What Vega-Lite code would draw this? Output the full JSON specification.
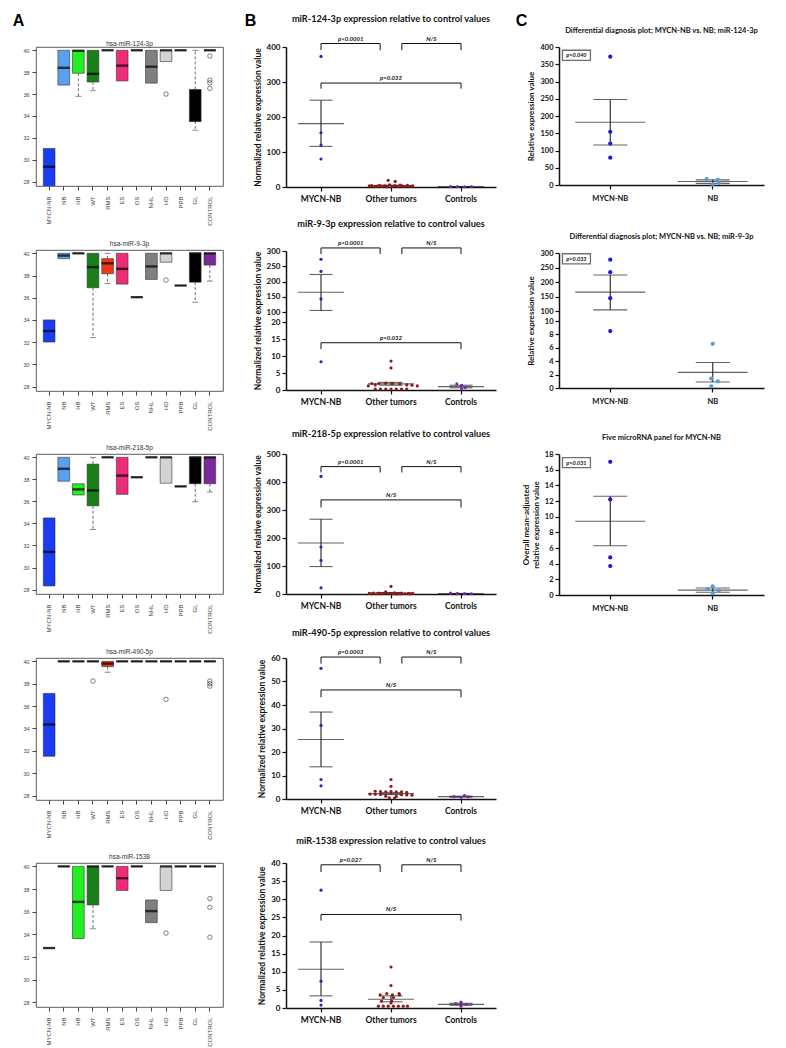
{
"$schema":"https://vega.github.io/schema/vega-lite/v6.json",
"background":"white",
"padding":{"left":11,"top":11,"right":24,"bottom":5},
"config":{"view":{"stroke":null}},
"datasets":{
"box":[
{"p":"124","g":"MYCN-NB","q1":27.55,"med":29.36,"q3":31.03},
{"p":"124","g":"NB","q1":36.82,"med":38.4,"q3":40},
{"p":"124","g":"HB","q1":37.9,"med":39.95,"q3":40},
{"p":"124","g":"WT","q1":37.1,"med":37.85,"q3":40},
{"p":"124","g":"RMS","q1":40,"med":40,"q3":40},
{"p":"124","g":"ES","q1":37.2,"med":38.6,"q3":40},
{"p":"124","g":"OS","q1":40,"med":40,"q3":40},
{"p":"124","g":"NHL","q1":37.0,"med":38.5,"q3":40},
{"p":"124","g":"HD","q1":38.97,"med":40,"q3":40},
{"p":"124","g":"PPB","q1":40,"med":40,"q3":40},
{"p":"124","g":"GL","q1":33.55,"med":33.55,"q3":36.42},
{"p":"124","g":"CONTROL","q1":40,"med":40,"q3":40},
{"p":"9","g":"MYCN-NB","q1":32.01,"med":33.0,"q3":34.0},
{"p":"9","g":"NB","q1":39.52,"med":39.8,"q3":40},
{"p":"9","g":"HB","q1":40,"med":40,"q3":40},
{"p":"9","g":"WT","q1":36.9,"med":38.76,"q3":40},
{"p":"9","g":"RMS","q1":38.16,"med":39.1,"q3":39.52},
{"p":"9","g":"ES","q1":37.23,"med":38.6,"q3":40},
{"p":"9","g":"OS","q1":36.05,"med":36.05,"q3":36.05},
{"p":"9","g":"NHL","q1":37.65,"med":38.82,"q3":40},
{"p":"9","g":"HD","q1":39.2,"med":40,"q3":40},
{"p":"9","g":"PPB","q1":37.1,"med":37.1,"q3":37.1},
{"p":"9","g":"GL","q1":37.4,"med":40,"q3":40},
{"p":"9","g":"CONTROL","q1":38.94,"med":40,"q3":40},
{"p":"218","g":"MYCN-NB","q1":28.33,"med":31.42,"q3":34.5},
{"p":"218","g":"NB","q1":37.83,"med":38.96,"q3":40},
{"p":"218","g":"HB","q1":36.58,"med":37.09,"q3":37.6},
{"p":"218","g":"WT","q1":35.6,"med":37.0,"q3":39.38},
{"p":"218","g":"RMS","q1":40,"med":40,"q3":40},
{"p":"218","g":"ES","q1":36.64,"med":38.34,"q3":40},
{"p":"218","g":"OS","q1":38.19,"med":38.19,"q3":38.19},
{"p":"218","g":"NHL","q1":40,"med":40,"q3":40},
{"p":"218","g":"HD","q1":37.65,"med":40,"q3":40},
{"p":"218","g":"PPB","q1":37.36,"med":37.36,"q3":37.36},
{"p":"218","g":"GL","q1":37.6,"med":40,"q3":40},
{"p":"218","g":"CONTROL","q1":37.6,"med":40,"q3":40},
{"p":"490","g":"MYCN-NB","q1":31.51,"med":34.35,"q3":37.13},
{"p":"490","g":"NB","q1":40,"med":40,"q3":40},
{"p":"490","g":"HB","q1":40,"med":40,"q3":40},
{"p":"490","g":"WT","q1":40,"med":40,"q3":40},
{"p":"490","g":"RMS","q1":39.53,"med":39.8,"q3":40},
{"p":"490","g":"ES","q1":40,"med":40,"q3":40},
{"p":"490","g":"OS","q1":40,"med":40,"q3":40},
{"p":"490","g":"NHL","q1":40,"med":40,"q3":40},
{"p":"490","g":"HD","q1":40,"med":40,"q3":40},
{"p":"490","g":"PPB","q1":40,"med":40,"q3":40},
{"p":"490","g":"GL","q1":40,"med":40,"q3":40},
{"p":"490","g":"CONTROL","q1":40,"med":40,"q3":40},
{"p":"1538","g":"MYCN-NB","q1":32.8,"med":32.8,"q3":32.8},
{"p":"1538","g":"NB","q1":40,"med":40,"q3":40},
{"p":"1538","g":"HB","q1":33.64,"med":36.87,"q3":40},
{"p":"1538","g":"WT","q1":36.6,"med":40,"q3":40},
{"p":"1538","g":"RMS","q1":40,"med":40,"q3":40},
{"p":"1538","g":"ES","q1":37.88,"med":38.96,"q3":40},
{"p":"1538","g":"OS","q1":40,"med":40,"q3":40},
{"p":"1538","g":"NHL","q1":35.04,"med":36.06,"q3":37.04},
{"p":"1538","g":"HD","q1":37.88,"med":40,"q3":40},
{"p":"1538","g":"PPB","q1":40,"med":40,"q3":40},
{"p":"1538","g":"GL","q1":40,"med":40,"q3":40},
{"p":"1538","g":"CONTROL","q1":40,"med":40,"q3":40}
],
"wh":[
{"p":"124","g":"HB","a":37.9,"b":35.8},
{"p":"124","g":"WT","a":37.1,"b":36.3},
{"p":"124","g":"GL","a":36.42,"b":40},
{"p":"124","g":"GL","a":33.55,"b":32.7},
{"p":"9","g":"WT","a":36.9,"b":32.43},
{"p":"9","g":"RMS","a":39.52,"b":40},
{"p":"9","g":"RMS","a":38.16,"b":37.29},
{"p":"9","g":"GL","a":37.4,"b":35.6},
{"p":"9","g":"CONTROL","a":38.94,"b":37.5},
{"p":"218","g":"WT","a":39.38,"b":40},
{"p":"218","g":"WT","a":35.6,"b":33.44},
{"p":"218","g":"GL","a":37.6,"b":35.96},
{"p":"218","g":"CONTROL","a":37.6,"b":36.85},
{"p":"490","g":"RMS","a":39.53,"b":39.03},
{"p":"1538","g":"WT","a":36.6,"b":34.5}
],
"out":[
{"p":"124","g":"HD","v":36.0},
{"p":"124","g":"CONTROL","v":39.48},
{"p":"124","g":"CONTROL","v":37.27},
{"p":"124","g":"CONTROL","v":37.03},
{"p":"124","g":"CONTROL","v":36.52},
{"p":"9","g":"HD","v":37.59},
{"p":"490","g":"WT","v":38.24},
{"p":"490","g":"HD","v":36.6},
{"p":"490","g":"CONTROL","v":38.24},
{"p":"490","g":"CONTROL","v":38.0},
{"p":"490","g":"CONTROL","v":37.78},
{"p":"1538","g":"HD","v":34.12},
{"p":"1538","g":"CONTROL","v":37.16},
{"p":"1538","g":"CONTROL","v":36.39},
{"p":"1538","g":"CONTROL","v":33.76}
],
"pts":[
{"p":"b124","g":"MYCN-NB","v":373,"s":0},{"p":"b124","g":"MYCN-NB","v":155,"s":0},{"p":"b124","g":"MYCN-NB","v":120,"s":0},{"p":"b124","g":"MYCN-NB","v":80,"s":0},
{"p":"b124","g":"Other tumors","v":19,"s":-0.08},{"p":"b124","g":"Other tumors","v":16,"s":0.12},
{"p":"b124","g":"Other tumors","v":6,"s":-0.04},{"p":"b124","g":"Other tumors","v":5.5,"s":0.26},{"p":"b124","g":"Other tumors","v":5,"s":-0.33},{"p":"b124","g":"Other tumors","v":4.5,"s":0.47},{"p":"b124","g":"Other tumors","v":4,"s":-0.55},{"p":"b124","g":"Other tumors","v":4,"s":0.11},{"p":"b124","g":"Other tumors","v":3.5,"s":-0.18},{"p":"b124","g":"Other tumors","v":3,"s":0.62},{"p":"b124","g":"Other tumors","v":3,"s":-0.62},{"p":"b124","g":"Other tumors","v":2.5,"s":0.33},{"p":"b124","g":"Other tumors","v":2.5,"s":-0.4},{"p":"b124","g":"Other tumors","v":2,"s":0.55},{"p":"b124","g":"Other tumors","v":2,"s":-0.26},{"p":"b124","g":"Other tumors","v":1.5,"s":0.04},{"p":"b124","g":"Other tumors","v":1.5,"s":0.4},{"p":"b124","g":"Other tumors","v":1,"s":-0.47},{"p":"b124","g":"Other tumors","v":1,"s":0.18},{"p":"b124","g":"Other tumors","v":0.5,"s":-0.11},
{"p":"b124","g":"Controls","v":1.5,"s":-0.3},{"p":"b124","g":"Controls","v":1.0,"s":-0.1},{"p":"b124","g":"Controls","v":0.8,"s":0.1},{"p":"b124","g":"Controls","v":1.2,"s":0.3},
{"p":"b9","g":"MYCN-NB","v":273,"s":0},{"p":"b9","g":"MYCN-NB","v":233,"s":0},{"p":"b9","g":"MYCN-NB","v":143,"s":0},{"p":"b9","g":"MYCN-NB","v":8.3,"s":0},
{"p":"b9","g":"Other tumors","v":8.5,"s":0},{"p":"b9","g":"Other tumors","v":6.5,"s":0},{"p":"b9","g":"Other tumors","v":1.9,"s":-0.55},{"p":"b9","g":"Other tumors","v":1.9,"s":-0.35},{"p":"b9","g":"Other tumors","v":2.0,"s":-0.15},{"p":"b9","g":"Other tumors","v":1.9,"s":0.05},{"p":"b9","g":"Other tumors","v":1.8,"s":0.25},{"p":"b9","g":"Other tumors","v":1.5,"s":-0.45},{"p":"b9","g":"Other tumors","v":1.5,"s":0.45},{"p":"b9","g":"Other tumors","v":1.4,"s":0.6},{"p":"b9","g":"Other tumors","v":1.2,"s":-0.65},{"p":"b9","g":"Other tumors","v":1.2,"s":0.75},{"p":"b9","g":"Other tumors","v":0.3,"s":-0.45},{"p":"b9","g":"Other tumors","v":0.3,"s":-0.3},{"p":"b9","g":"Other tumors","v":0.3,"s":-0.15},{"p":"b9","g":"Other tumors","v":0.3,"s":0},{"p":"b9","g":"Other tumors","v":0.3,"s":0.15},{"p":"b9","g":"Other tumors","v":0.3,"s":0.3},{"p":"b9","g":"Other tumors","v":0.3,"s":0.45},
{"p":"b9","g":"Controls","v":1.8,"s":-0.12},{"p":"b9","g":"Controls","v":1.4,"s":0.02},{"p":"b9","g":"Controls","v":0.7,"s":0.12},{"p":"b9","g":"Controls","v":0.3,"s":0.02},
{"p":"b218","g":"MYCN-NB","v":420,"s":0},{"p":"b218","g":"MYCN-NB","v":168,"s":0},{"p":"b218","g":"MYCN-NB","v":120,"s":0},{"p":"b218","g":"MYCN-NB","v":22,"s":0},
{"p":"b218","g":"Other tumors","v":27,"s":0},{"p":"b218","g":"Other tumors","v":8,"s":-0.15},{"p":"b218","g":"Other tumors","v":4,"s":0.1},{"p":"b218","g":"Other tumors","v":3.5,"s":-0.35},{"p":"b218","g":"Other tumors","v":3,"s":0.3},{"p":"b218","g":"Other tumors","v":3,"s":-0.5},{"p":"b218","g":"Other tumors","v":2.5,"s":0.5},{"p":"b218","g":"Other tumors","v":2.5,"s":-0.2},{"p":"b218","g":"Other tumors","v":2,"s":0.62},{"p":"b218","g":"Other tumors","v":2,"s":-0.62},{"p":"b218","g":"Other tumors","v":1.5,"s":0.2},{"p":"b218","g":"Other tumors","v":1.5,"s":-0.05},{"p":"b218","g":"Other tumors","v":1,"s":0.4},{"p":"b218","g":"Other tumors","v":1,"s":-0.4},{"p":"b218","g":"Other tumors","v":1,"s":0.05},{"p":"b218","g":"Other tumors","v":0.8,"s":-0.28},{"p":"b218","g":"Other tumors","v":0.5,"s":0.28},{"p":"b218","g":"Other tumors","v":0.5,"s":-0.55},{"p":"b218","g":"Other tumors","v":0.5,"s":0.55},{"p":"b218","g":"Other tumors","v":0.3,"s":0.15},
{"p":"b218","g":"Controls","v":3,"s":-0.3},{"p":"b218","g":"Controls","v":2,"s":-0.1},{"p":"b218","g":"Controls","v":1.5,"s":0.1},{"p":"b218","g":"Controls","v":1,"s":0.3},
{"p":"b490","g":"MYCN-NB","v":55.6,"s":0},{"p":"b490","g":"MYCN-NB","v":31.3,"s":0},{"p":"b490","g":"MYCN-NB","v":8.3,"s":0},{"p":"b490","g":"MYCN-NB","v":5.6,"s":0},
{"p":"b490","g":"Other tumors","v":8.3,"s":0},{"p":"b490","g":"Other tumors","v":5.4,"s":0},{"p":"b490","g":"Other tumors","v":3.3,"s":-0.45},{"p":"b490","g":"Other tumors","v":3.2,"s":-0.3},{"p":"b490","g":"Other tumors","v":3.1,"s":-0.15},{"p":"b490","g":"Other tumors","v":3.2,"s":0},{"p":"b490","g":"Other tumors","v":3.0,"s":0.15},{"p":"b490","g":"Other tumors","v":3.1,"s":0.3},{"p":"b490","g":"Other tumors","v":2.8,"s":0.45},{"p":"b490","g":"Other tumors","v":2.1,"s":-0.6},{"p":"b490","g":"Other tumors","v":2.0,"s":-0.45},{"p":"b490","g":"Other tumors","v":1.9,"s":-0.3},{"p":"b490","g":"Other tumors","v":1.8,"s":0.3},{"p":"b490","g":"Other tumors","v":1.7,"s":0.45},{"p":"b490","g":"Other tumors","v":1.6,"s":0.6},{"p":"b490","g":"Other tumors","v":1.2,"s":-0.15},{"p":"b490","g":"Other tumors","v":1.1,"s":0.15},{"p":"b490","g":"Other tumors","v":0.5,"s":-0.05},{"p":"b490","g":"Other tumors","v":0.4,"s":0.1},
{"p":"b490","g":"Controls","v":1.5,"s":0.1},{"p":"b490","g":"Controls","v":1.0,"s":-0.2},{"p":"b490","g":"Controls","v":0.9,"s":0.2},{"p":"b490","g":"Controls","v":0.7,"s":0},
{"p":"b1538","g":"MYCN-NB","v":32.5,"s":0},{"p":"b1538","g":"MYCN-NB","v":7.4,"s":0},{"p":"b1538","g":"MYCN-NB","v":2.1,"s":0},{"p":"b1538","g":"MYCN-NB","v":0.8,"s":0},
{"p":"b1538","g":"Other tumors","v":11.3,"s":0},{"p":"b1538","g":"Other tumors","v":6.2,"s":0},{"p":"b1538","g":"Other tumors","v":4.0,"s":-0.12},{"p":"b1538","g":"Other tumors","v":4.0,"s":0.23},{"p":"b1538","g":"Other tumors","v":3.6,"s":-0.31},{"p":"b1538","g":"Other tumors","v":3.6,"s":0.04},{"p":"b1538","g":"Other tumors","v":3.6,"s":0.24},{"p":"b1538","g":"Other tumors","v":2.9,"s":-0.22},{"p":"b1538","g":"Other tumors","v":2.9,"s":0.07},{"p":"b1538","g":"Other tumors","v":1.9,"s":-0.27},{"p":"b1538","g":"Other tumors","v":1.9,"s":0.02},{"p":"b1538","g":"Other tumors","v":1.4,"s":0},{"p":"b1538","g":"Other tumors","v":0.5,"s":-0.36},{"p":"b1538","g":"Other tumors","v":0.5,"s":-0.22},{"p":"b1538","g":"Other tumors","v":0.5,"s":-0.08},{"p":"b1538","g":"Other tumors","v":0.5,"s":0.07},{"p":"b1538","g":"Other tumors","v":0.5,"s":0.21},{"p":"b1538","g":"Other tumors","v":0.5,"s":0.35},{"p":"b1538","g":"Other tumors","v":0.5,"s":0.47},
{"p":"b1538","g":"Controls","v":1.6,"s":0},{"p":"b1538","g":"Controls","v":1.2,"s":-0.15},{"p":"b1538","g":"Controls","v":1.0,"s":0.15},{"p":"b1538","g":"Controls","v":0.5,"s":0},
{"p":"c124","g":"MYCN-NB","v":372,"s":0},{"p":"c124","g":"MYCN-NB","v":154,"s":0},{"p":"c124","g":"MYCN-NB","v":120,"s":0},{"p":"c124","g":"MYCN-NB","v":79,"s":0},
{"p":"c124","g":"NB","v":17,"s":-0.12},{"p":"c124","g":"NB","v":15,"s":0.1},{"p":"c124","g":"NB","v":6,"s":0.12},{"p":"c124","g":"NB","v":2,"s":0},
{"p":"c9","g":"MYCN-NB","v":277,"s":0},{"p":"c9","g":"MYCN-NB","v":234,"s":0},{"p":"c9","g":"MYCN-NB","v":144,"s":0},{"p":"c9","g":"MYCN-NB","v":8.5,"s":0},
{"p":"c9","g":"NB","v":6.6,"s":0},{"p":"c9","g":"NB","v":1.4,"s":-0.03},{"p":"c9","g":"NB","v":1.0,"s":0.1},{"p":"c9","g":"NB","v":0.25,"s":-0.03},
{"p":"c5","g":"MYCN-NB","v":17.0,"s":0},{"p":"c5","g":"MYCN-NB","v":12.2,"s":0},{"p":"c5","g":"MYCN-NB","v":4.8,"s":0},{"p":"c5","g":"MYCN-NB","v":3.7,"s":0},
{"p":"c5","g":"NB","v":1.1,"s":0},{"p":"c5","g":"NB","v":0.75,"s":-0.1},{"p":"c5","g":"NB","v":0.55,"s":0.12},{"p":"c5","g":"NB","v":0.2,"s":0}
],
"st":[
{"p":"b124","g":"MYCN-NB","m":181,"lo":116,"hi":248},{"p":"b124","g":"Other tumors","m":4.2,"lo":3.2,"hi":5.2},{"p":"b124","g":"Controls","m":1.1,"lo":0.9,"hi":1.3},
{"p":"b9","g":"MYCN-NB","m":165,"lo":105,"hi":223},{"p":"b9","g":"Other tumors","m":1.8,"lo":1.4,"hi":2.25},{"p":"b9","g":"Controls","m":1.0,"lo":0.65,"hi":1.4},
{"p":"b218","g":"MYCN-NB","m":182,"lo":98,"hi":267},{"p":"b218","g":"Other tumors","m":3.8,"lo":2.3,"hi":5.3},{"p":"b218","g":"Controls","m":1.5,"lo":0.9,"hi":2.1},
{"p":"b490","g":"MYCN-NB","m":25.3,"lo":13.7,"hi":37},{"p":"b490","g":"Other tumors","m":2.3,"lo":1.9,"hi":2.7},{"p":"b490","g":"Controls","m":1.0,"lo":0.8,"hi":1.2},
{"p":"b1538","g":"MYCN-NB","m":10.7,"lo":3.35,"hi":18.2},{"p":"b1538","g":"Other tumors","m":2.4,"lo":1.72,"hi":3.35},{"p":"b1538","g":"Controls","m":1.0,"lo":0.75,"hi":1.3},
{"p":"c124","g":"MYCN-NB","m":182,"lo":116,"hi":248},{"p":"c124","g":"NB","m":10,"lo":4.6,"hi":15},
{"p":"c9","g":"MYCN-NB","m":165,"lo":104,"hi":224},{"p":"c9","g":"NB","m":2.33,"lo":0.9,"hi":3.8},
{"p":"c5","g":"MYCN-NB","m":9.42,"lo":6.28,"hi":12.6},{"p":"c5","g":"NB","m":0.62,"lo":0.35,"hi":0.9}
],
"br":[
{"p":"b124","b":"L","k":0,"g":"MYCN-NB","n":0,"v":391},{"p":"b124","b":"L","k":1,"g":"MYCN-NB","n":0,"v":410},{"p":"b124","b":"L","k":2,"g":"Other tumors","n":-0.31,"v":410},{"p":"b124","b":"L","k":3,"g":"Other tumors","n":-0.31,"v":391},
{"p":"b124","b":"R","k":0,"g":"Other tumors","n":0.31,"v":391},{"p":"b124","b":"R","k":1,"g":"Other tumors","n":0.31,"v":410},{"p":"b124","b":"R","k":2,"g":"Controls","n":0,"v":410},{"p":"b124","b":"R","k":3,"g":"Controls","n":0,"v":391},
{"p":"b124","b":"W","k":0,"g":"MYCN-NB","n":0,"v":281},{"p":"b124","b":"W","k":1,"g":"MYCN-NB","n":0,"v":297},{"p":"b124","b":"W","k":2,"g":"Controls","n":0,"v":297},{"p":"b124","b":"W","k":3,"g":"Controls","n":0,"v":281},
{"p":"b9","b":"L","k":0,"g":"MYCN-NB","n":0,"v":290},{"p":"b9","b":"L","k":1,"g":"MYCN-NB","n":0,"v":310},{"p":"b9","b":"L","k":2,"g":"Other tumors","n":-0.31,"v":310},{"p":"b9","b":"L","k":3,"g":"Other tumors","n":-0.31,"v":290},
{"p":"b9","b":"R","k":0,"g":"Other tumors","n":0.31,"v":290},{"p":"b9","b":"R","k":1,"g":"Other tumors","n":0.31,"v":310},{"p":"b9","b":"R","k":2,"g":"Controls","n":0,"v":310},{"p":"b9","b":"R","k":3,"g":"Controls","n":0,"v":290},
{"p":"b9","b":"W","k":0,"g":"MYCN-NB","n":0,"v":12.0},{"p":"b9","b":"W","k":1,"g":"MYCN-NB","n":0,"v":13.9},{"p":"b9","b":"W","k":2,"g":"Controls","n":0,"v":13.9},{"p":"b9","b":"W","k":3,"g":"Controls","n":0,"v":12.0},
{"p":"b218","b":"L","k":0,"g":"MYCN-NB","n":0,"v":434},{"p":"b218","b":"L","k":1,"g":"MYCN-NB","n":0,"v":455},{"p":"b218","b":"L","k":2,"g":"Other tumors","n":-0.31,"v":455},{"p":"b218","b":"L","k":3,"g":"Other tumors","n":-0.31,"v":434},
{"p":"b218","b":"R","k":0,"g":"Other tumors","n":0.31,"v":434},{"p":"b218","b":"R","k":1,"g":"Other tumors","n":0.31,"v":455},{"p":"b218","b":"R","k":2,"g":"Controls","n":0,"v":455},{"p":"b218","b":"R","k":3,"g":"Controls","n":0,"v":434},
{"p":"b218","b":"W","k":0,"g":"MYCN-NB","n":0,"v":309},{"p":"b218","b":"W","k":1,"g":"MYCN-NB","n":0,"v":336},{"p":"b218","b":"W","k":2,"g":"Controls","n":0,"v":336},{"p":"b218","b":"W","k":3,"g":"Controls","n":0,"v":309},
{"p":"b490","b":"L","k":0,"g":"MYCN-NB","n":0,"v":57.6},{"p":"b490","b":"L","k":1,"g":"MYCN-NB","n":0,"v":60.4},{"p":"b490","b":"L","k":2,"g":"Other tumors","n":-0.31,"v":60.4},{"p":"b490","b":"L","k":3,"g":"Other tumors","n":-0.31,"v":57.6},
{"p":"b490","b":"R","k":0,"g":"Other tumors","n":0.31,"v":57.6},{"p":"b490","b":"R","k":1,"g":"Other tumors","n":0.31,"v":60.4},{"p":"b490","b":"R","k":2,"g":"Controls","n":0,"v":60.4},{"p":"b490","b":"R","k":3,"g":"Controls","n":0,"v":57.6},
{"p":"b490","b":"W","k":0,"g":"MYCN-NB","n":0,"v":43.3},{"p":"b490","b":"W","k":1,"g":"MYCN-NB","n":0,"v":46.4},{"p":"b490","b":"W","k":2,"g":"Controls","n":0,"v":46.4},{"p":"b490","b":"W","k":3,"g":"Controls","n":0,"v":43.3},
{"p":"b1538","b":"L","k":0,"g":"MYCN-NB","n":0,"v":37.5},{"p":"b1538","b":"L","k":1,"g":"MYCN-NB","n":0,"v":39.5},{"p":"b1538","b":"L","k":2,"g":"Other tumors","n":-0.31,"v":39.5},{"p":"b1538","b":"L","k":3,"g":"Other tumors","n":-0.31,"v":37.5},
{"p":"b1538","b":"R","k":0,"g":"Other tumors","n":0.31,"v":37.5},{"p":"b1538","b":"R","k":1,"g":"Other tumors","n":0.31,"v":39.5},{"p":"b1538","b":"R","k":2,"g":"Controls","n":0,"v":39.5},{"p":"b1538","b":"R","k":3,"g":"Controls","n":0,"v":37.5},
{"p":"b1538","b":"W","k":0,"g":"MYCN-NB","n":0,"v":24.1},{"p":"b1538","b":"W","k":1,"g":"MYCN-NB","n":0,"v":25.8},{"p":"b1538","b":"W","k":2,"g":"Controls","n":0,"v":25.8},{"p":"b1538","b":"W","k":3,"g":"Controls","n":0,"v":24.1}
],
"lab":[
{"p":"b124","g":"MYCN-NB","n":0.85,"v":410,"t":"p<0.0001"},{"p":"b124","g":"Controls","n":-0.85,"v":410,"t":"N/S"},{"p":"b124","g":"Other tumors","n":0,"v":297,"t":"p=0.033"},
{"p":"b9","g":"MYCN-NB","n":0.85,"v":310,"t":"p<0.0001"},{"p":"b9","g":"Controls","n":-0.85,"v":310,"t":"N/S"},{"p":"b9","g":"Other tumors","n":0,"v":13.9,"t":"p=0.032"},
{"p":"b218","g":"MYCN-NB","n":0.85,"v":455,"t":"p<0.0001"},{"p":"b218","g":"Controls","n":-0.85,"v":455,"t":"N/S"},{"p":"b218","g":"Other tumors","n":0,"v":336,"t":"N/S"},
{"p":"b490","g":"MYCN-NB","n":0.85,"v":60.4,"t":"p=0.0003"},{"p":"b490","g":"Controls","n":-0.85,"v":60.4,"t":"N/S"},{"p":"b490","g":"Other tumors","n":0,"v":46.4,"t":"N/S"},
{"p":"b1538","g":"MYCN-NB","n":0.85,"v":39.5,"t":"p=0.027"},{"p":"b1538","g":"Controls","n":-0.85,"v":39.5,"t":"N/S"},{"p":"b1538","g":"Other tumors","n":0,"v":25.8,"t":"N/S"}
],
"pv":[
{"p":"c124","g":"MYCN-NB","n":-0.66,"v":376,"t":"p=0.040"},
{"p":"c9","g":"MYCN-NB","n":-0.66,"v":280,"t":"p=0.033"},
{"p":"c5","g":"MYCN-NB","n":-0.66,"v":16.9,"t":"p=0.031"}
]
},
"columns":3,
"bounds":"flush",
"align":"each",
"spacing":{"row":63,"column":63},
"resolve":{"scale":{"color":"independent","xOffset":"independent"}},
"concat":[
{"width":187,"height":139,"view":{"stroke":"#333","strokeWidth":0.8},
"title":{"text":"hsa-miR-124-3p","font":"Liberation Sans","fontSize":6.5,"fontWeight":"normal","color":"#333","offset":-35},
"encoding":{"x":{"field":"g","type":"nominal","scale":{"type":"band","domain":["MYCN-NB","NB","HB","WT","RMS","ES","OS","NHL","HD","PPB","GL","CONTROL"],"paddingInner":0,"paddingOuter":0.4},"axis":{"title":null,"labelAngle":-90,"labelFont":"Liberation Sans","labelFontSize":6,"labelColor":"#444","tickColor":"#444","tickSize":4,"domain":false,"labelPadding":6}}},
"layer":[
{"data":{"name":"wh"},"transform":[{"filter":"datum.p=='124'"}],"mark":{"type":"rule","strokeDash":[3,2],"color":"#333","strokeWidth":0.7},"encoding":{"y":{"field":"a","type":"quantitative","scale":{"domain":[27.6,40.3],"nice":false,"zero":false},"axis":{"title":"A","titleAngle":0,"titleAlign":"center","titleBaseline":"alphabetic","titleX":-18,"titleY":-22,"titleFont":"Liberation Sans","titleFontSize":16,"titleFontWeight":"bold","titleColor":"#000","values":[28,30,32,34,36,38,40],"format":"d","tickCount":20,"labelOverlap":false,"labelFont":"Liberation Sans","labelFontSize":5.5,"labelColor":"#444","tickColor":"#444","tickSize":4,"domain":false,"grid":false,"labelPadding":3}},"y2":{"field":"b"}}},
{"data":{"name":"wh"},"transform":[{"filter":"datum.p=='124'"}],"mark":{"type":"tick","orient":"horizontal","size":6,"thickness":0.8,"color":"#333"},"encoding":{"y":{"field":"b","type":"quantitative","scale":{"domain":[27.6,40.3],"nice":false,"zero":false}}}},
{"data":{"name":"box"},"transform":[{"filter":"datum.p=='124'"}],"mark":{"type":"bar","width":{"band":0.8},"stroke":"#333","strokeWidth":0.6,"clip":true},"encoding":{"y":{"field":"q1","type":"quantitative","scale":{"domain":[27.6,40.3],"nice":false,"zero":false}},"y2":{"field":"q3"},"color":{"field":"g","type":"nominal","scale":{"domain":["MYCN-NB","NB","HB","WT","RMS","ES","OS","NHL","HD","PPB","GL","CONTROL"],"range":["#1a3cf5","#5aa0ee","#22ee22","#1a7f1a","#ee3a14","#ee2d78","#888888","#808080","#d3d3d3","#888888","#000000","#7b2a9e"]},"legend":null}}},
{"data":{"name":"box"},"transform":[{"filter":"datum.p=='124'"}],"mark":{"type":"tick","orient":"horizontal","size":12,"thickness":2.4,"color":"#000"},"encoding":{"y":{"field":"med","type":"quantitative","scale":{"domain":[27.6,40.3],"nice":false,"zero":false}}}},
{"data":{"name":"out"},"transform":[{"filter":"datum.p=='124'"}],"mark":{"type":"point","shape":"circle","filled":false,"size":20,"color":"#000","strokeWidth":0.7},"encoding":{"y":{"field":"v","type":"quantitative","scale":{"domain":[27.6,40.3],"nice":false,"zero":false}}}}
]},
{"width":210,"height":140,
"title":{"text":"miR-124-3p expression relative to control values","font":"Lato","fontSize":9.2,"fontWeight":"bold","color":"#111","offset":-12},
"encoding":{"x":{"field":"g","type":"nominal","scale":{"type":"band","domain":["MYCN-NB","Other tumors","Controls"],"paddingInner":0,"paddingOuter":0},"axis":{"title":"B","titleAlign":"center","titleBaseline":"alphabetic","titleX":-36,"titleY":-162,"titleFont":"Liberation Sans","titleFontSize":16,"titleFontWeight":"bold","titleColor":"#000","labelAngle":0,"labelFont":"Lato","labelFontSize":8.5,"labelFontWeight":"bold","labelColor":"#111","domainColor":"#111","domainWidth":1.5,"tickColor":"#111","tickWidth":1.2,"tickSize":4,"labelPadding":3,"grid":false}}},
"layer":[
{"data":{"name":"st"},"transform":[{"filter":"datum.p=='b124'"}],"mark":{"type":"rule","color":"#222","strokeWidth":1.1},"encoding":{"y":{"field":"lo","type":"quantitative","scale":{"domain":[0,400],"nice":false,"zero":false},"axis":{"title":"Normalized relative expression value","titleFont":"Lato","titleFontSize":8.5,"titleFontWeight":"bold","titleColor":"#111","titlePadding":4,"values":[0,100,200,300,400],"tickCount":20,"labelOverlap":false,"labelFont":"Lato","labelFontSize":8,"labelFontWeight":"bold","labelColor":"#111","domainColor":"#111","domainWidth":1.5,"tickColor":"#111","tickWidth":1.2,"tickSize":4,"labelPadding":2,"grid":false}},"y2":{"field":"hi"}}},
{"data":{"name":"st"},"transform":[{"filter":"datum.p=='b124'"}],"mark":{"type":"tick","orient":"horizontal","size":46,"thickness":1.1,"color":"#222"},"encoding":{"y":{"field":"m","type":"quantitative","scale":{"domain":[0,400],"nice":false,"zero":false}}}},
{"data":{"name":"st"},"transform":[{"filter":"datum.p=='b124'"}],"mark":{"type":"tick","orient":"horizontal","size":23,"thickness":1.1,"color":"#222"},"encoding":{"y":{"field":"lo","type":"quantitative","scale":{"domain":[0,400],"nice":false,"zero":false}}}},
{"data":{"name":"st"},"transform":[{"filter":"datum.p=='b124'"}],"mark":{"type":"tick","orient":"horizontal","size":23,"thickness":1.1,"color":"#222"},"encoding":{"y":{"field":"hi","type":"quantitative","scale":{"domain":[0,400],"nice":false,"zero":false}}}},
{"data":{"name":"pts"},"transform":[{"filter":"datum.p=='b124'"}],"mark":{"type":"circle","size":10,"opacity":1},"encoding":{"y":{"field":"v","type":"quantitative","scale":{"domain":[0,400],"nice":false,"zero":false}},"xOffset":{"field":"s","type":"quantitative","scale":{"domain":[-1,1],"range":[0,70]}},"color":{"field":"g","type":"nominal","scale":{"domain":["MYCN-NB","Other tumors","Controls"],"range":["#2424c8","#8b1a1a","#7a2aa8"]},"legend":null}}},
{"data":{"name":"br"},"transform":[{"filter":"datum.p=='b124'"}],"mark":{"type":"line","color":"#111","strokeWidth":1},"encoding":{"y":{"field":"v","type":"quantitative","scale":{"domain":[0,400],"nice":false,"zero":false}},"xOffset":{"field":"n","type":"quantitative","scale":{"domain":[-1,1],"range":[0,70]}},"detail":{"field":"b"},"order":{"field":"k","type":"quantitative"}}},
{"data":{"name":"lab"},"transform":[{"filter":"datum.p=='b124'"}],"mark":{"type":"text","font":"Lato","fontSize":6,"fontStyle":"italic","fontWeight":"bold","baseline":"bottom","dy":-2,"color":"#111"},"encoding":{"y":{"field":"v","type":"quantitative","scale":{"domain":[0,400],"nice":false,"zero":false}},"xOffset":{"field":"n","type":"quantitative","scale":{"domain":[-1,1],"range":[0,70]}},"text":{"field":"t"}}}
]},
{"width":205,"height":138,
"title":{"text":"Differential diagnosis plot; MYCN-NB vs. NB; miR-124-3p","font":"Lato","fontSize":7.5,"fontWeight":"bold","color":"#111","offset":-22},
"encoding":{"x":{"field":"g","type":"nominal","scale":{"type":"band","domain":["MYCN-NB","NB"],"paddingInner":0,"paddingOuter":0},"axis":{"title":"C","titleAlign":"center","titleBaseline":"alphabetic","titleX":-38,"titleY":-160,"titleFont":"Liberation Sans","titleFontSize":16,"titleFontWeight":"bold","titleColor":"#000","labelAngle":0,"labelFont":"Lato","labelFontSize":7.5,"labelFontWeight":"bold","labelColor":"#111","domainColor":"#111","domainWidth":1.5,"tickColor":"#111","tickWidth":1.2,"tickSize":4,"labelPadding":5,"grid":false}}},
"layer":[
{"data":{"name":"st"},"transform":[{"filter":"datum.p=='c124'"}],"mark":{"type":"rule","color":"#222","strokeWidth":1.1},"encoding":{"y":{"field":"lo","type":"quantitative","scale":{"domain":[0,400],"nice":false,"zero":false},"axis":{"title":"Relative expression value","titleFont":"Lato","titleFontSize":8,"titleFontWeight":"bold","titleColor":"#111","titlePadding":4,"values":[0,50,100,150,200,250,300,350,400],"tickCount":20,"labelOverlap":false,"labelFont":"Lato","labelFontSize":7.5,"labelFontWeight":"bold","labelColor":"#111","domainColor":"#111","domainWidth":1.5,"tickColor":"#111","tickWidth":1.2,"tickSize":4,"labelPadding":2,"grid":false}},"y2":{"field":"hi"}}},
{"data":{"name":"st"},"transform":[{"filter":"datum.p=='c124'"}],"mark":{"type":"tick","orient":"horizontal","size":70,"thickness":1.1,"color":"#222"},"encoding":{"y":{"field":"m","type":"quantitative","scale":{"domain":[0,400],"nice":false,"zero":false}}}},
{"data":{"name":"st"},"transform":[{"filter":"datum.p=='c124'"}],"mark":{"type":"tick","orient":"horizontal","size":34,"thickness":1.1,"color":"#222"},"encoding":{"y":{"field":"lo","type":"quantitative","scale":{"domain":[0,400],"nice":false,"zero":false}}}},
{"data":{"name":"st"},"transform":[{"filter":"datum.p=='c124'"}],"mark":{"type":"tick","orient":"horizontal","size":34,"thickness":1.1,"color":"#222"},"encoding":{"y":{"field":"hi","type":"quantitative","scale":{"domain":[0,400],"nice":false,"zero":false}}}},
{"data":{"name":"pts"},"transform":[{"filter":"datum.p=='c124'"}],"mark":{"type":"circle","size":18,"opacity":1},"encoding":{"y":{"field":"v","type":"quantitative","scale":{"domain":[0,400],"nice":false,"zero":false}},"xOffset":{"field":"s","type":"quantitative","scale":{"domain":[-1,1],"range":[0,102.5]}},"color":{"field":"g","type":"nominal","scale":{"domain":["MYCN-NB","NB"],"range":["#1c1cd6","#5b9bd5"]},"legend":null}}},
{"data":{"name":"pv"},"transform":[{"filter":"datum.p=='c124'"}],"mark":{"type":"point","shape":"M-1,-0.36H1V0.36H-1Z","size":784,"filled":false,"color":"#333","strokeWidth":1.3},"encoding":{"y":{"field":"v","type":"quantitative","scale":{"domain":[0,400],"nice":false,"zero":false}},"xOffset":{"field":"n","type":"quantitative","scale":{"domain":[-1,1],"range":[0,102.5]}}}},
{"data":{"name":"pv"},"transform":[{"filter":"datum.p=='c124'"}],"mark":{"type":"text","font":"Lato","fontSize":5.5,"fontStyle":"italic","fontWeight":"bold","baseline":"middle","color":"#111"},"encoding":{"y":{"field":"v","type":"quantitative","scale":{"domain":[0,400],"nice":false,"zero":false}},"xOffset":{"field":"n","type":"quantitative","scale":{"domain":[-1,1],"range":[0,102.5]}},"text":{"field":"t"}}}
]},
{"width":187,"height":141,"view":{"stroke":"#333","strokeWidth":0.8},
"title":{"text":"hsa-miR-9-3p","font":"Liberation Sans","fontSize":6.5,"fontWeight":"normal","color":"#333","offset":3},
"encoding":{"x":{"field":"g","type":"nominal","scale":{"type":"band","domain":["MYCN-NB","NB","HB","WT","RMS","ES","OS","NHL","HD","PPB","GL","CONTROL"],"paddingInner":0,"paddingOuter":0.4},"axis":{"title":null,"labelAngle":-90,"labelFont":"Liberation Sans","labelFontSize":6,"labelColor":"#444","tickColor":"#444","tickSize":4,"domain":false,"labelPadding":6}}},
"layer":[
{"data":{"name":"wh"},"transform":[{"filter":"datum.p=='9'"}],"mark":{"type":"rule","strokeDash":[3,2],"color":"#333","strokeWidth":0.7},"encoding":{"y":{"field":"a","type":"quantitative","scale":{"domain":[27.6,40.3],"nice":false,"zero":false},"axis":{"title":null,"values":[28,30,32,34,36,38,40],"format":"d","tickCount":20,"labelOverlap":false,"labelFont":"Liberation Sans","labelFontSize":5.5,"labelColor":"#444","tickColor":"#444","tickSize":4,"domain":false,"grid":false,"labelPadding":3}},"y2":{"field":"b"}}},
{"data":{"name":"wh"},"transform":[{"filter":"datum.p=='9'"}],"mark":{"type":"tick","orient":"horizontal","size":6,"thickness":0.8,"color":"#333"},"encoding":{"y":{"field":"b","type":"quantitative","scale":{"domain":[27.6,40.3],"nice":false,"zero":false}}}},
{"data":{"name":"box"},"transform":[{"filter":"datum.p=='9'"}],"mark":{"type":"bar","width":{"band":0.8},"stroke":"#333","strokeWidth":0.6,"clip":true},"encoding":{"y":{"field":"q1","type":"quantitative","scale":{"domain":[27.6,40.3],"nice":false,"zero":false}},"y2":{"field":"q3"},"color":{"field":"g","type":"nominal","scale":{"domain":["MYCN-NB","NB","HB","WT","RMS","ES","OS","NHL","HD","PPB","GL","CONTROL"],"range":["#1a3cf5","#5aa0ee","#22ee22","#1a7f1a","#ee3a14","#ee2d78","#888888","#808080","#d3d3d3","#888888","#000000","#7b2a9e"]},"legend":null}}},
{"data":{"name":"box"},"transform":[{"filter":"datum.p=='9'"}],"mark":{"type":"tick","orient":"horizontal","size":12,"thickness":2.4,"color":"#000"},"encoding":{"y":{"field":"med","type":"quantitative","scale":{"domain":[27.6,40.3],"nice":false,"zero":false}}}},
{"data":{"name":"out"},"transform":[{"filter":"datum.p=='9'"}],"mark":{"type":"point","shape":"circle","filled":false,"size":20,"color":"#000","strokeWidth":0.7},"encoding":{"y":{"field":"v","type":"quantitative","scale":{"domain":[27.6,40.3],"nice":false,"zero":false}}}}
]},
{"width":210,"height":140,
"title":{"text":"miR-9-3p expression relative to control values","font":"Lato","fontSize":9.2,"fontWeight":"bold","color":"#111","offset":11},
"encoding":{"x":{"field":"g","type":"nominal","scale":{"type":"band","domain":["MYCN-NB","Other tumors","Controls"],"paddingInner":0,"paddingOuter":0},"axis":{"title":null,"labelAngle":0,"labelFont":"Lato","labelFontSize":8.5,"labelFontWeight":"bold","labelColor":"#111","domainColor":"#111","domainWidth":1.5,"tickColor":"#111","tickWidth":1.2,"tickSize":4,"labelPadding":3,"grid":false}}},
"layer":[
{"data":{"name":"st"},"transform":[{"filter":"datum.p=='b9'"}],"mark":{"type":"rule","color":"#222","strokeWidth":1.1},"encoding":{"y":{"field":"lo","type":"quantitative","scale":{"domain":[0,20,100,300],"range":[140,72,62,1],"nice":false,"zero":false},"axis":{"title":"Normalized relative expression value","titleFont":"Lato","titleFontSize":8.5,"titleFontWeight":"bold","titleColor":"#111","titlePadding":4,"values":[0,5,10,15,20,100,150,200,250,300],"tickCount":20,"labelOverlap":false,"labelFont":"Lato","labelFontSize":8,"labelFontWeight":"bold","labelColor":"#111","domainColor":"#111","domainWidth":1.5,"tickColor":"#111","tickWidth":1.2,"tickSize":4,"labelPadding":2,"grid":false}},"y2":{"field":"hi"}}},
{"data":{"name":"st"},"transform":[{"filter":"datum.p=='b9'"}],"mark":{"type":"tick","orient":"horizontal","size":46,"thickness":1.1,"color":"#222"},"encoding":{"y":{"field":"m","type":"quantitative","scale":{"domain":[0,20,100,300],"range":[140,72,62,1],"nice":false,"zero":false}}}},
{"data":{"name":"st"},"transform":[{"filter":"datum.p=='b9'"}],"mark":{"type":"tick","orient":"horizontal","size":23,"thickness":1.1,"color":"#222"},"encoding":{"y":{"field":"lo","type":"quantitative","scale":{"domain":[0,20,100,300],"range":[140,72,62,1],"nice":false,"zero":false}}}},
{"data":{"name":"st"},"transform":[{"filter":"datum.p=='b9'"}],"mark":{"type":"tick","orient":"horizontal","size":23,"thickness":1.1,"color":"#222"},"encoding":{"y":{"field":"hi","type":"quantitative","scale":{"domain":[0,20,100,300],"range":[140,72,62,1],"nice":false,"zero":false}}}},
{"data":{"name":"pts"},"transform":[{"filter":"datum.p=='b9'"}],"mark":{"type":"circle","size":10,"opacity":1},"encoding":{"y":{"field":"v","type":"quantitative","scale":{"domain":[0,20,100,300],"range":[140,72,62,1],"nice":false,"zero":false}},"xOffset":{"field":"s","type":"quantitative","scale":{"domain":[-1,1],"range":[0,70]}},"color":{"field":"g","type":"nominal","scale":{"domain":["MYCN-NB","Other tumors","Controls"],"range":["#2424c8","#8b1a1a","#7a2aa8"]},"legend":null}}},
{"data":{"name":"br"},"transform":[{"filter":"datum.p=='b9'"}],"mark":{"type":"line","color":"#111","strokeWidth":1},"encoding":{"y":{"field":"v","type":"quantitative","scale":{"domain":[0,20,100,300],"range":[140,72,62,1],"nice":false,"zero":false}},"xOffset":{"field":"n","type":"quantitative","scale":{"domain":[-1,1],"range":[0,70]}},"detail":{"field":"b"},"order":{"field":"k","type":"quantitative"}}},
{"data":{"name":"lab"},"transform":[{"filter":"datum.p=='b9'"}],"mark":{"type":"text","font":"Lato","fontSize":6,"fontStyle":"italic","fontWeight":"bold","baseline":"bottom","dy":-2,"color":"#111"},"encoding":{"y":{"field":"v","type":"quantitative","scale":{"domain":[0,20,100,300],"range":[140,72,62,1],"nice":false,"zero":false}},"xOffset":{"field":"n","type":"quantitative","scale":{"domain":[-1,1],"range":[0,70]}},"text":{"field":"t"}}}
]},
{"width":205,"height":138,
"title":{"text":"Differential diagnosis plot; MYCN-NB vs. NB; miR-9-3p","font":"Lato","fontSize":7.5,"fontWeight":"bold","color":"#111","offset":9},
"encoding":{"x":{"field":"g","type":"nominal","scale":{"type":"band","domain":["MYCN-NB","NB"],"paddingInner":0,"paddingOuter":0},"axis":{"title":null,"labelAngle":0,"labelFont":"Lato","labelFontSize":7.5,"labelFontWeight":"bold","labelColor":"#111","domainColor":"#111","domainWidth":1.5,"tickColor":"#111","tickWidth":1.2,"tickSize":4,"labelPadding":5,"grid":false}}},
"layer":[
{"data":{"name":"st"},"transform":[{"filter":"datum.p=='c9'"}],"mark":{"type":"rule","color":"#222","strokeWidth":1.1},"encoding":{"y":{"field":"lo","type":"quantitative","scale":{"domain":[0,10,100,300],"range":[138,71,61,3],"nice":false,"zero":false},"axis":{"title":"Relative expression value","titleFont":"Lato","titleFontSize":8,"titleFontWeight":"bold","titleColor":"#111","titlePadding":4,"values":[0,2,4,6,8,10,100,150,200,250,300],"tickCount":20,"labelOverlap":false,"labelFont":"Lato","labelFontSize":7.5,"labelFontWeight":"bold","labelColor":"#111","domainColor":"#111","domainWidth":1.5,"tickColor":"#111","tickWidth":1.2,"tickSize":4,"labelPadding":2,"grid":false}},"y2":{"field":"hi"}}},
{"data":{"name":"st"},"transform":[{"filter":"datum.p=='c9'"}],"mark":{"type":"tick","orient":"horizontal","size":70,"thickness":1.1,"color":"#222"},"encoding":{"y":{"field":"m","type":"quantitative","scale":{"domain":[0,10,100,300],"range":[138,71,61,3],"nice":false,"zero":false}}}},
{"data":{"name":"st"},"transform":[{"filter":"datum.p=='c9'"}],"mark":{"type":"tick","orient":"horizontal","size":34,"thickness":1.1,"color":"#222"},"encoding":{"y":{"field":"lo","type":"quantitative","scale":{"domain":[0,10,100,300],"range":[138,71,61,3],"nice":false,"zero":false}}}},
{"data":{"name":"st"},"transform":[{"filter":"datum.p=='c9'"}],"mark":{"type":"tick","orient":"horizontal","size":34,"thickness":1.1,"color":"#222"},"encoding":{"y":{"field":"hi","type":"quantitative","scale":{"domain":[0,10,100,300],"range":[138,71,61,3],"nice":false,"zero":false}}}},
{"data":{"name":"pts"},"transform":[{"filter":"datum.p=='c9'"}],"mark":{"type":"circle","size":18,"opacity":1},"encoding":{"y":{"field":"v","type":"quantitative","scale":{"domain":[0,10,100,300],"range":[138,71,61,3],"nice":false,"zero":false}},"xOffset":{"field":"s","type":"quantitative","scale":{"domain":[-1,1],"range":[0,102.5]}},"color":{"field":"g","type":"nominal","scale":{"domain":["MYCN-NB","NB"],"range":["#1c1cd6","#5b9bd5"]},"legend":null}}},
{"data":{"name":"pv"},"transform":[{"filter":"datum.p=='c9'"}],"mark":{"type":"point","shape":"M-1,-0.36H1V0.36H-1Z","size":784,"filled":false,"color":"#333","strokeWidth":1.3},"encoding":{"y":{"field":"v","type":"quantitative","scale":{"domain":[0,10,100,300],"range":[138,71,61,3],"nice":false,"zero":false}},"xOffset":{"field":"n","type":"quantitative","scale":{"domain":[-1,1],"range":[0,102.5]}}}},
{"data":{"name":"pv"},"transform":[{"filter":"datum.p=='c9'"}],"mark":{"type":"text","font":"Lato","fontSize":5.5,"fontStyle":"italic","fontWeight":"bold","baseline":"middle","color":"#111"},"encoding":{"y":{"field":"v","type":"quantitative","scale":{"domain":[0,10,100,300],"range":[138,71,61,3],"nice":false,"zero":false}},"xOffset":{"field":"n","type":"quantitative","scale":{"domain":[-1,1],"range":[0,102.5]}},"text":{"field":"t"}}}
]},
{"width":187,"height":140,"view":{"stroke":"#333","strokeWidth":0.8},
"title":{"text":"hsa-miR-218-5p","font":"Liberation Sans","fontSize":6.5,"fontWeight":"normal","color":"#333","offset":3},
"encoding":{"x":{"field":"g","type":"nominal","scale":{"type":"band","domain":["MYCN-NB","NB","HB","WT","RMS","ES","OS","NHL","HD","PPB","GL","CONTROL"],"paddingInner":0,"paddingOuter":0.4},"axis":{"title":null,"labelAngle":-90,"labelFont":"Liberation Sans","labelFontSize":6,"labelColor":"#444","tickColor":"#444","tickSize":4,"domain":false,"labelPadding":6}}},
"layer":[
{"data":{"name":"wh"},"transform":[{"filter":"datum.p=='218'"}],"mark":{"type":"rule","strokeDash":[3,2],"color":"#333","strokeWidth":0.7},"encoding":{"y":{"field":"a","type":"quantitative","scale":{"domain":[27.6,40.3],"nice":false,"zero":false},"axis":{"title":null,"values":[28,30,32,34,36,38,40],"format":"d","tickCount":20,"labelOverlap":false,"labelFont":"Liberation Sans","labelFontSize":5.5,"labelColor":"#444","tickColor":"#444","tickSize":4,"domain":false,"grid":false,"labelPadding":3}},"y2":{"field":"b"}}},
{"data":{"name":"wh"},"transform":[{"filter":"datum.p=='218'"}],"mark":{"type":"tick","orient":"horizontal","size":6,"thickness":0.8,"color":"#333"},"encoding":{"y":{"field":"b","type":"quantitative","scale":{"domain":[27.6,40.3],"nice":false,"zero":false}}}},
{"data":{"name":"box"},"transform":[{"filter":"datum.p=='218'"}],"mark":{"type":"bar","width":{"band":0.8},"stroke":"#333","strokeWidth":0.6,"clip":true},"encoding":{"y":{"field":"q1","type":"quantitative","scale":{"domain":[27.6,40.3],"nice":false,"zero":false}},"y2":{"field":"q3"},"color":{"field":"g","type":"nominal","scale":{"domain":["MYCN-NB","NB","HB","WT","RMS","ES","OS","NHL","HD","PPB","GL","CONTROL"],"range":["#1a3cf5","#5aa0ee","#22ee22","#1a7f1a","#ee3a14","#ee2d78","#888888","#808080","#d3d3d3","#888888","#000000","#7b2a9e"]},"legend":null}}},
{"data":{"name":"box"},"transform":[{"filter":"datum.p=='218'"}],"mark":{"type":"tick","orient":"horizontal","size":12,"thickness":2.4,"color":"#000"},"encoding":{"y":{"field":"med","type":"quantitative","scale":{"domain":[27.6,40.3],"nice":false,"zero":false}}}},
{"data":{"name":"out"},"transform":[{"filter":"datum.p=='218'"}],"mark":{"type":"point","shape":"circle","filled":false,"size":20,"color":"#000","strokeWidth":0.7},"encoding":{"y":{"field":"v","type":"quantitative","scale":{"domain":[27.6,40.3],"nice":false,"zero":false}}}}
]},
{"width":210,"height":140,
"title":{"text":"miR-218-5p expression relative to control values","font":"Lato","fontSize":9.2,"fontWeight":"bold","color":"#111","offset":11},
"encoding":{"x":{"field":"g","type":"nominal","scale":{"type":"band","domain":["MYCN-NB","Other tumors","Controls"],"paddingInner":0,"paddingOuter":0},"axis":{"title":null,"labelAngle":0,"labelFont":"Lato","labelFontSize":8.5,"labelFontWeight":"bold","labelColor":"#111","domainColor":"#111","domainWidth":1.5,"tickColor":"#111","tickWidth":1.2,"tickSize":4,"labelPadding":3,"grid":false}}},
"layer":[
{"data":{"name":"st"},"transform":[{"filter":"datum.p=='b218'"}],"mark":{"type":"rule","color":"#222","strokeWidth":1.1},"encoding":{"y":{"field":"lo","type":"quantitative","scale":{"domain":[0,500],"nice":false,"zero":false},"axis":{"title":"Normalized relative expression value","titleFont":"Lato","titleFontSize":8.5,"titleFontWeight":"bold","titleColor":"#111","titlePadding":4,"values":[0,100,200,300,400,500],"tickCount":20,"labelOverlap":false,"labelFont":"Lato","labelFontSize":8,"labelFontWeight":"bold","labelColor":"#111","domainColor":"#111","domainWidth":1.5,"tickColor":"#111","tickWidth":1.2,"tickSize":4,"labelPadding":2,"grid":false}},"y2":{"field":"hi"}}},
{"data":{"name":"st"},"transform":[{"filter":"datum.p=='b218'"}],"mark":{"type":"tick","orient":"horizontal","size":46,"thickness":1.1,"color":"#222"},"encoding":{"y":{"field":"m","type":"quantitative","scale":{"domain":[0,500],"nice":false,"zero":false}}}},
{"data":{"name":"st"},"transform":[{"filter":"datum.p=='b218'"}],"mark":{"type":"tick","orient":"horizontal","size":23,"thickness":1.1,"color":"#222"},"encoding":{"y":{"field":"lo","type":"quantitative","scale":{"domain":[0,500],"nice":false,"zero":false}}}},
{"data":{"name":"st"},"transform":[{"filter":"datum.p=='b218'"}],"mark":{"type":"tick","orient":"horizontal","size":23,"thickness":1.1,"color":"#222"},"encoding":{"y":{"field":"hi","type":"quantitative","scale":{"domain":[0,500],"nice":false,"zero":false}}}},
{"data":{"name":"pts"},"transform":[{"filter":"datum.p=='b218'"}],"mark":{"type":"circle","size":10,"opacity":1},"encoding":{"y":{"field":"v","type":"quantitative","scale":{"domain":[0,500],"nice":false,"zero":false}},"xOffset":{"field":"s","type":"quantitative","scale":{"domain":[-1,1],"range":[0,70]}},"color":{"field":"g","type":"nominal","scale":{"domain":["MYCN-NB","Other tumors","Controls"],"range":["#2424c8","#8b1a1a","#7a2aa8"]},"legend":null}}},
{"data":{"name":"br"},"transform":[{"filter":"datum.p=='b218'"}],"mark":{"type":"line","color":"#111","strokeWidth":1},"encoding":{"y":{"field":"v","type":"quantitative","scale":{"domain":[0,500],"nice":false,"zero":false}},"xOffset":{"field":"n","type":"quantitative","scale":{"domain":[-1,1],"range":[0,70]}},"detail":{"field":"b"},"order":{"field":"k","type":"quantitative"}}},
{"data":{"name":"lab"},"transform":[{"filter":"datum.p=='b218'"}],"mark":{"type":"text","font":"Lato","fontSize":6,"fontStyle":"italic","fontWeight":"bold","baseline":"bottom","dy":-2,"color":"#111"},"encoding":{"y":{"field":"v","type":"quantitative","scale":{"domain":[0,500],"nice":false,"zero":false}},"xOffset":{"field":"n","type":"quantitative","scale":{"domain":[-1,1],"range":[0,70]}},"text":{"field":"t"}}}
]},
{"width":205,"height":141,
"title":{"text":"Five  microRNA panel for MYCN-NB","font":"Lato","fontSize":7.5,"fontWeight":"bold","color":"#111","offset":9},
"encoding":{"x":{"field":"g","type":"nominal","scale":{"type":"band","domain":["MYCN-NB","NB"],"paddingInner":0,"paddingOuter":0},"axis":{"title":null,"labelAngle":0,"labelFont":"Lato","labelFontSize":7.5,"labelFontWeight":"bold","labelColor":"#111","domainColor":"#111","domainWidth":1.5,"tickColor":"#111","tickWidth":1.2,"tickSize":4,"labelPadding":5,"grid":false}}},
"layer":[
{"data":{"name":"st"},"transform":[{"filter":"datum.p=='c5'"}],"mark":{"type":"rule","color":"#222","strokeWidth":1.1},"encoding":{"y":{"field":"lo","type":"quantitative","scale":{"domain":[0,18],"nice":false,"zero":false},"axis":{"title":["Overall mean-adjusted","relative expression value"],"titleFont":"Lato","titleFontSize":8,"titleFontWeight":"bold","titleColor":"#111","titlePadding":4,"values":[0,2,4,6,8,10,12,14,16,18],"tickCount":20,"labelOverlap":false,"labelFont":"Lato","labelFontSize":7.5,"labelFontWeight":"bold","labelColor":"#111","domainColor":"#111","domainWidth":1.5,"tickColor":"#111","tickWidth":1.2,"tickSize":4,"labelPadding":2,"grid":false}},"y2":{"field":"hi"}}},
{"data":{"name":"st"},"transform":[{"filter":"datum.p=='c5'"}],"mark":{"type":"tick","orient":"horizontal","size":70,"thickness":1.1,"color":"#222"},"encoding":{"y":{"field":"m","type":"quantitative","scale":{"domain":[0,18],"nice":false,"zero":false}}}},
{"data":{"name":"st"},"transform":[{"filter":"datum.p=='c5'"}],"mark":{"type":"tick","orient":"horizontal","size":34,"thickness":1.1,"color":"#222"},"encoding":{"y":{"field":"lo","type":"quantitative","scale":{"domain":[0,18],"nice":false,"zero":false}}}},
{"data":{"name":"st"},"transform":[{"filter":"datum.p=='c5'"}],"mark":{"type":"tick","orient":"horizontal","size":34,"thickness":1.1,"color":"#222"},"encoding":{"y":{"field":"hi","type":"quantitative","scale":{"domain":[0,18],"nice":false,"zero":false}}}},
{"data":{"name":"pts"},"transform":[{"filter":"datum.p=='c5'"}],"mark":{"type":"circle","size":18,"opacity":1},"encoding":{"y":{"field":"v","type":"quantitative","scale":{"domain":[0,18],"nice":false,"zero":false}},"xOffset":{"field":"s","type":"quantitative","scale":{"domain":[-1,1],"range":[0,102.5]}},"color":{"field":"g","type":"nominal","scale":{"domain":["MYCN-NB","NB"],"range":["#1c1cd6","#5b9bd5"]},"legend":null}}},
{"data":{"name":"pv"},"transform":[{"filter":"datum.p=='c5'"}],"mark":{"type":"point","shape":"M-1,-0.36H1V0.36H-1Z","size":784,"filled":false,"color":"#333","strokeWidth":1.3},"encoding":{"y":{"field":"v","type":"quantitative","scale":{"domain":[0,18],"nice":false,"zero":false}},"xOffset":{"field":"n","type":"quantitative","scale":{"domain":[-1,1],"range":[0,102.5]}}}},
{"data":{"name":"pv"},"transform":[{"filter":"datum.p=='c5'"}],"mark":{"type":"text","font":"Lato","fontSize":5.5,"fontStyle":"italic","fontWeight":"bold","baseline":"middle","color":"#111"},"encoding":{"y":{"field":"v","type":"quantitative","scale":{"domain":[0,18],"nice":false,"zero":false}},"xOffset":{"field":"n","type":"quantitative","scale":{"domain":[-1,1],"range":[0,102.5]}},"text":{"field":"t"}}}
]},
{"width":187,"height":142,"view":{"stroke":"#333","strokeWidth":0.8},
"title":{"text":"hsa-miR-490-5p","font":"Liberation Sans","fontSize":6.5,"fontWeight":"normal","color":"#333","offset":3},
"encoding":{"x":{"field":"g","type":"nominal","scale":{"type":"band","domain":["MYCN-NB","NB","HB","WT","RMS","ES","OS","NHL","HD","PPB","GL","CONTROL"],"paddingInner":0,"paddingOuter":0.4},"axis":{"title":null,"labelAngle":-90,"labelFont":"Liberation Sans","labelFontSize":6,"labelColor":"#444","tickColor":"#444","tickSize":4,"domain":false,"labelPadding":6}}},
"layer":[
{"data":{"name":"wh"},"transform":[{"filter":"datum.p=='490'"}],"mark":{"type":"rule","strokeDash":[3,2],"color":"#333","strokeWidth":0.7},"encoding":{"y":{"field":"a","type":"quantitative","scale":{"domain":[27.6,40.3],"nice":false,"zero":false},"axis":{"title":null,"values":[28,30,32,34,36,38,40],"format":"d","tickCount":20,"labelOverlap":false,"labelFont":"Liberation Sans","labelFontSize":5.5,"labelColor":"#444","tickColor":"#444","tickSize":4,"domain":false,"grid":false,"labelPadding":3}},"y2":{"field":"b"}}},
{"data":{"name":"wh"},"transform":[{"filter":"datum.p=='490'"}],"mark":{"type":"tick","orient":"horizontal","size":6,"thickness":0.8,"color":"#333"},"encoding":{"y":{"field":"b","type":"quantitative","scale":{"domain":[27.6,40.3],"nice":false,"zero":false}}}},
{"data":{"name":"box"},"transform":[{"filter":"datum.p=='490'"}],"mark":{"type":"bar","width":{"band":0.8},"stroke":"#333","strokeWidth":0.6,"clip":true},"encoding":{"y":{"field":"q1","type":"quantitative","scale":{"domain":[27.6,40.3],"nice":false,"zero":false}},"y2":{"field":"q3"},"color":{"field":"g","type":"nominal","scale":{"domain":["MYCN-NB","NB","HB","WT","RMS","ES","OS","NHL","HD","PPB","GL","CONTROL"],"range":["#1a3cf5","#5aa0ee","#22ee22","#1a7f1a","#ee3a14","#ee2d78","#888888","#808080","#d3d3d3","#888888","#000000","#7b2a9e"]},"legend":null}}},
{"data":{"name":"box"},"transform":[{"filter":"datum.p=='490'"}],"mark":{"type":"tick","orient":"horizontal","size":12,"thickness":2.4,"color":"#000"},"encoding":{"y":{"field":"med","type":"quantitative","scale":{"domain":[27.6,40.3],"nice":false,"zero":false}}}},
{"data":{"name":"out"},"transform":[{"filter":"datum.p=='490'"}],"mark":{"type":"point","shape":"circle","filled":false,"size":20,"color":"#000","strokeWidth":0.7},"encoding":{"y":{"field":"v","type":"quantitative","scale":{"domain":[27.6,40.3],"nice":false,"zero":false}}}}
]},
{"width":210,"height":141,
"title":{"text":"miR-490-5p expression relative to control values","font":"Lato","fontSize":9.2,"fontWeight":"bold","color":"#111","offset":11},
"encoding":{"x":{"field":"g","type":"nominal","scale":{"type":"band","domain":["MYCN-NB","Other tumors","Controls"],"paddingInner":0,"paddingOuter":0},"axis":{"title":null,"labelAngle":0,"labelFont":"Lato","labelFontSize":8.5,"labelFontWeight":"bold","labelColor":"#111","domainColor":"#111","domainWidth":1.5,"tickColor":"#111","tickWidth":1.2,"tickSize":4,"labelPadding":3,"grid":false}}},
"layer":[
{"data":{"name":"st"},"transform":[{"filter":"datum.p=='b490'"}],"mark":{"type":"rule","color":"#222","strokeWidth":1.1},"encoding":{"y":{"field":"lo","type":"quantitative","scale":{"domain":[0,60],"nice":false,"zero":false},"axis":{"title":"Normalized relative expression value","titleFont":"Lato","titleFontSize":8.5,"titleFontWeight":"bold","titleColor":"#111","titlePadding":4,"values":[0,10,20,30,40,50,60],"tickCount":20,"labelOverlap":false,"labelFont":"Lato","labelFontSize":8,"labelFontWeight":"bold","labelColor":"#111","domainColor":"#111","domainWidth":1.5,"tickColor":"#111","tickWidth":1.2,"tickSize":4,"labelPadding":2,"grid":false}},"y2":{"field":"hi"}}},
{"data":{"name":"st"},"transform":[{"filter":"datum.p=='b490'"}],"mark":{"type":"tick","orient":"horizontal","size":46,"thickness":1.1,"color":"#222"},"encoding":{"y":{"field":"m","type":"quantitative","scale":{"domain":[0,60],"nice":false,"zero":false}}}},
{"data":{"name":"st"},"transform":[{"filter":"datum.p=='b490'"}],"mark":{"type":"tick","orient":"horizontal","size":23,"thickness":1.1,"color":"#222"},"encoding":{"y":{"field":"lo","type":"quantitative","scale":{"domain":[0,60],"nice":false,"zero":false}}}},
{"data":{"name":"st"},"transform":[{"filter":"datum.p=='b490'"}],"mark":{"type":"tick","orient":"horizontal","size":23,"thickness":1.1,"color":"#222"},"encoding":{"y":{"field":"hi","type":"quantitative","scale":{"domain":[0,60],"nice":false,"zero":false}}}},
{"data":{"name":"pts"},"transform":[{"filter":"datum.p=='b490'"}],"mark":{"type":"circle","size":10,"opacity":1},"encoding":{"y":{"field":"v","type":"quantitative","scale":{"domain":[0,60],"nice":false,"zero":false}},"xOffset":{"field":"s","type":"quantitative","scale":{"domain":[-1,1],"range":[0,70]}},"color":{"field":"g","type":"nominal","scale":{"domain":["MYCN-NB","Other tumors","Controls"],"range":["#2424c8","#8b1a1a","#7a2aa8"]},"legend":null}}},
{"data":{"name":"br"},"transform":[{"filter":"datum.p=='b490'"}],"mark":{"type":"line","color":"#111","strokeWidth":1},"encoding":{"y":{"field":"v","type":"quantitative","scale":{"domain":[0,60],"nice":false,"zero":false}},"xOffset":{"field":"n","type":"quantitative","scale":{"domain":[-1,1],"range":[0,70]}},"detail":{"field":"b"},"order":{"field":"k","type":"quantitative"}}},
{"data":{"name":"lab"},"transform":[{"filter":"datum.p=='b490'"}],"mark":{"type":"text","font":"Lato","fontSize":6,"fontStyle":"italic","fontWeight":"bold","baseline":"bottom","dy":-2,"color":"#111"},"encoding":{"y":{"field":"v","type":"quantitative","scale":{"domain":[0,60],"nice":false,"zero":false}},"xOffset":{"field":"n","type":"quantitative","scale":{"domain":[-1,1],"range":[0,70]}},"text":{"field":"t"}}}
]},
{"width":205,"height":100,"data":{"values":[{"e":""}]},"mark":{"type":"text"},"encoding":{"text":{"field":"e"}}},
{"width":187,"height":144,"view":{"stroke":"#333","strokeWidth":0.8},
"title":{"text":"hsa-miR-1538","font":"Liberation Sans","fontSize":6.5,"fontWeight":"normal","color":"#333","offset":3},
"encoding":{"x":{"field":"g","type":"nominal","scale":{"type":"band","domain":["MYCN-NB","NB","HB","WT","RMS","ES","OS","NHL","HD","PPB","GL","CONTROL"],"paddingInner":0,"paddingOuter":0.4},"axis":{"title":null,"labelAngle":-90,"labelFont":"Liberation Sans","labelFontSize":6,"labelColor":"#444","tickColor":"#444","tickSize":4,"domain":false,"labelPadding":6}}},
"layer":[
{"data":{"name":"wh"},"transform":[{"filter":"datum.p=='1538'"}],"mark":{"type":"rule","strokeDash":[3,2],"color":"#333","strokeWidth":0.7},"encoding":{"y":{"field":"a","type":"quantitative","scale":{"domain":[27.6,40.3],"nice":false,"zero":false},"axis":{"title":null,"values":[28,30,32,34,36,38,40],"format":"d","tickCount":20,"labelOverlap":false,"labelFont":"Liberation Sans","labelFontSize":5.5,"labelColor":"#444","tickColor":"#444","tickSize":4,"domain":false,"grid":false,"labelPadding":3}},"y2":{"field":"b"}}},
{"data":{"name":"wh"},"transform":[{"filter":"datum.p=='1538'"}],"mark":{"type":"tick","orient":"horizontal","size":6,"thickness":0.8,"color":"#333"},"encoding":{"y":{"field":"b","type":"quantitative","scale":{"domain":[27.6,40.3],"nice":false,"zero":false}}}},
{"data":{"name":"box"},"transform":[{"filter":"datum.p=='1538'"}],"mark":{"type":"bar","width":{"band":0.8},"stroke":"#333","strokeWidth":0.6,"clip":true},"encoding":{"y":{"field":"q1","type":"quantitative","scale":{"domain":[27.6,40.3],"nice":false,"zero":false}},"y2":{"field":"q3"},"color":{"field":"g","type":"nominal","scale":{"domain":["MYCN-NB","NB","HB","WT","RMS","ES","OS","NHL","HD","PPB","GL","CONTROL"],"range":["#1a3cf5","#5aa0ee","#22ee22","#1a7f1a","#ee3a14","#ee2d78","#888888","#808080","#d3d3d3","#888888","#000000","#7b2a9e"]},"legend":null}}},
{"data":{"name":"box"},"transform":[{"filter":"datum.p=='1538'"}],"mark":{"type":"tick","orient":"horizontal","size":12,"thickness":2.4,"color":"#000"},"encoding":{"y":{"field":"med","type":"quantitative","scale":{"domain":[27.6,40.3],"nice":false,"zero":false}}}},
{"data":{"name":"out"},"transform":[{"filter":"datum.p=='1538'"}],"mark":{"type":"point","shape":"circle","filled":false,"size":20,"color":"#000","strokeWidth":0.7},"encoding":{"y":{"field":"v","type":"quantitative","scale":{"domain":[27.6,40.3],"nice":false,"zero":false}}}}
]},
{"width":210,"height":145,
"title":{"text":"miR-1538 expression relative to control values","font":"Lato","fontSize":9.2,"fontWeight":"bold","color":"#111","offset":11},
"encoding":{"x":{"field":"g","type":"nominal","scale":{"type":"band","domain":["MYCN-NB","Other tumors","Controls"],"paddingInner":0,"paddingOuter":0},"axis":{"title":null,"labelAngle":0,"labelFont":"Lato","labelFontSize":8.5,"labelFontWeight":"bold","labelColor":"#111","domainColor":"#111","domainWidth":1.5,"tickColor":"#111","tickWidth":1.2,"tickSize":4,"labelPadding":3,"grid":false}}},
"layer":[
{"data":{"name":"st"},"transform":[{"filter":"datum.p=='b1538'"}],"mark":{"type":"rule","color":"#222","strokeWidth":1.1},"encoding":{"y":{"field":"lo","type":"quantitative","scale":{"domain":[0,40],"nice":false,"zero":false},"axis":{"title":"Normalized relative expression value","titleFont":"Lato","titleFontSize":8.5,"titleFontWeight":"bold","titleColor":"#111","titlePadding":4,"values":[0,5,10,15,20,25,30,35,40],"tickCount":20,"labelOverlap":false,"labelFont":"Lato","labelFontSize":8,"labelFontWeight":"bold","labelColor":"#111","domainColor":"#111","domainWidth":1.5,"tickColor":"#111","tickWidth":1.2,"tickSize":4,"labelPadding":2,"grid":false}},"y2":{"field":"hi"}}},
{"data":{"name":"st"},"transform":[{"filter":"datum.p=='b1538'"}],"mark":{"type":"tick","orient":"horizontal","size":46,"thickness":1.1,"color":"#222"},"encoding":{"y":{"field":"m","type":"quantitative","scale":{"domain":[0,40],"nice":false,"zero":false}}}},
{"data":{"name":"st"},"transform":[{"filter":"datum.p=='b1538'"}],"mark":{"type":"tick","orient":"horizontal","size":23,"thickness":1.1,"color":"#222"},"encoding":{"y":{"field":"lo","type":"quantitative","scale":{"domain":[0,40],"nice":false,"zero":false}}}},
{"data":{"name":"st"},"transform":[{"filter":"datum.p=='b1538'"}],"mark":{"type":"tick","orient":"horizontal","size":23,"thickness":1.1,"color":"#222"},"encoding":{"y":{"field":"hi","type":"quantitative","scale":{"domain":[0,40],"nice":false,"zero":false}}}},
{"data":{"name":"pts"},"transform":[{"filter":"datum.p=='b1538'"}],"mark":{"type":"circle","size":10,"opacity":1},"encoding":{"y":{"field":"v","type":"quantitative","scale":{"domain":[0,40],"nice":false,"zero":false}},"xOffset":{"field":"s","type":"quantitative","scale":{"domain":[-1,1],"range":[0,70]}},"color":{"field":"g","type":"nominal","scale":{"domain":["MYCN-NB","Other tumors","Controls"],"range":["#2424c8","#8b1a1a","#7a2aa8"]},"legend":null}}},
{"data":{"name":"br"},"transform":[{"filter":"datum.p=='b1538'"}],"mark":{"type":"line","color":"#111","strokeWidth":1},"encoding":{"y":{"field":"v","type":"quantitative","scale":{"domain":[0,40],"nice":false,"zero":false}},"xOffset":{"field":"n","type":"quantitative","scale":{"domain":[-1,1],"range":[0,70]}},"detail":{"field":"b"},"order":{"field":"k","type":"quantitative"}}},
{"data":{"name":"lab"},"transform":[{"filter":"datum.p=='b1538'"}],"mark":{"type":"text","font":"Lato","fontSize":6,"fontStyle":"italic","fontWeight":"bold","baseline":"bottom","dy":-2,"color":"#111"},"encoding":{"y":{"field":"v","type":"quantitative","scale":{"domain":[0,40],"nice":false,"zero":false}},"xOffset":{"field":"n","type":"quantitative","scale":{"domain":[-1,1],"range":[0,70]}},"text":{"field":"t"}}}
]}
]
}
